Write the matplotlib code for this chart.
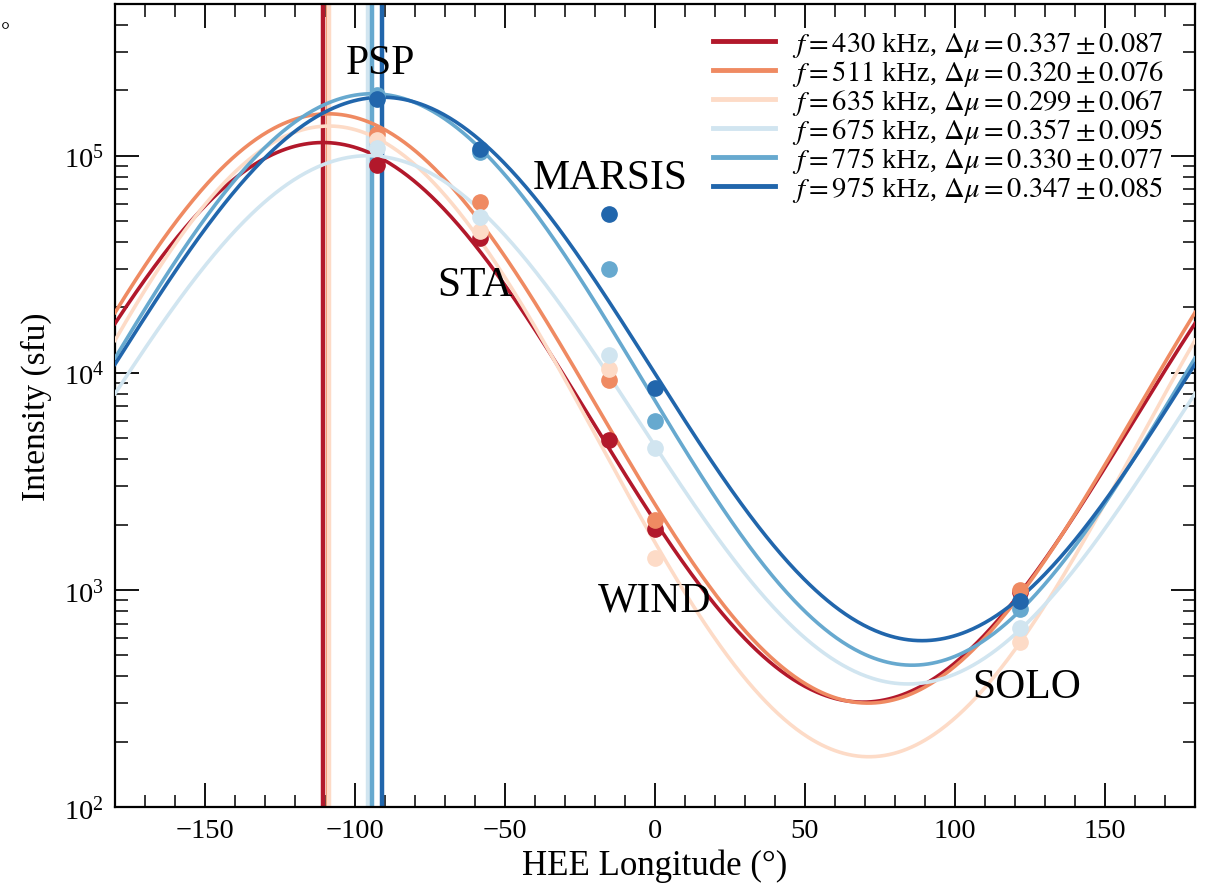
import numpy as np
import matplotlib
matplotlib.use("Agg")
import matplotlib.pyplot as plt
from matplotlib.ticker import MultipleLocator, LogLocator, NullFormatter

plt.rcParams['font.family'] = ['Liberation Serif', 'DejaVu Serif']
plt.rcParams['mathtext.fontset'] = 'stix'

# Data ---------------------------------------------------------------
freqs_khz = [430, 511, 635, 675, 775, 975]
dmu = [0.337, 0.320, 0.299, 0.357, 0.330, 0.347]
dmu_err = [0.087, 0.076, 0.067, 0.095, 0.077, 0.085]
peak_lon = [-110.7, -109.0, -108.7, -95.7, -94.3, -91.0]       # fitted direction (deg)
peak_int = [1.15e5, 1.56e5, 1.37e5, 1.00e5, 1.93e5, 1.86e5]    # fitted peak intensity (sfu)
colors = ['#b2182b', '#ef8a62', '#fddbc7', '#d1e5f0', '#67a9cf', '#2166ac']

spacecraft = ['PSP', 'STA', 'MARSIS', 'WIND', 'SOLO']
sc_lon = [-92.7, -58.3, -15.5, 0.0, 121.8]
# observed intensities (sfu): rows = frequency, cols = spacecraft
obs_430 = [9.1e4, 4.2e4, 4.9e3, 1.9e3, 980]
obs_511 = [1.26e5, 6.1e4, 9.3e3, 2.1e3, 1000]
obs_635 = [1.18e5, 4.5e4, 1.04e4, 1.4e3, 575]
obs_675 = [1.09e5, 5.2e4, 1.21e4, 4.5e3, 665]
obs_775 = [1.90e5, 1.04e5, 3.0e4, 6.0e3, 815]
obs_975 = [1.83e5, 1.07e5, 5.4e4, 8.5e3, 890]
observations = [obs_430, obs_511, obs_635, obs_675, obs_775, obs_975]

label_pos_lon = [-91.5, -60, -15, 0, 124]
label_pos_int = [2.68e5, 2.54e4, 7.9e4, 9.0e2, 3.6e2]

# Figure -------------------------------------------------------------
fig = plt.figure(figsize=(12.06, 8.87), dpi=100)
ax = fig.add_axes([0.0954, 0.0890, 0.8955, 0.9054])

theta = np.linspace(-180, 180, 721)
for f, dm, de, th0, I0, c, obs in zip(freqs_khz, dmu, dmu_err, peak_lon,
                                      peak_int, colors, observations):
    ax.axvline(th0, color=c, lw=3.2, zorder=2)
    model = I0 * np.exp((np.cos(np.radians(theta - th0)) - 1.0) / dm)
    ax.plot(theta, model, color=c, lw=2.6, zorder=3,
            label=rf'$f = {f}$ kHz, $\Delta\mu = {dm:.3f} \pm {de:.3f}$')
    ax.plot(sc_lon, obs, 'o', color=c, ms=11, zorder=4)

for name, lx, ly in zip(spacecraft, label_pos_lon, label_pos_int):
    ax.text(lx, ly, name, fontsize=30, ha='center', va='center', zorder=5)

ax.set_yscale('log')
ax.set_xlim(-180, 180)
ax.set_ylim(1e2, 5.0e5)
ax.xaxis.set_major_locator(MultipleLocator(50))
ax.xaxis.set_minor_locator(MultipleLocator(10))
ax.yaxis.set_major_locator(LogLocator(base=10, numticks=10))
ax.yaxis.set_minor_locator(LogLocator(base=10, subs=np.arange(2, 10), numticks=20))
ax.yaxis.set_minor_formatter(NullFormatter())
ax.tick_params(which='both', direction='in', top=True, right=True, labelsize=20.5)
ax.tick_params(which='major', length=17, width=1.3, pad=8)
ax.tick_params(which='minor', length=9, width=1.1)
for s in ax.spines.values():
    s.set_linewidth(1.6)

ax.set_xlabel('HEE Longitude (°)', fontsize=25, labelpad=4)
ax.set_ylabel('Intensity (sfu)', fontsize=24, labelpad=8)

leg = ax.legend(loc='upper right', fontsize=20.5, frameon=False,
                handlelength=2.2, handletextpad=0.6, labelspacing=-0.035,
                borderaxespad=0.3, bbox_to_anchor=(0.99, 0.992))
for ln in leg.get_lines():
    ln.set_linewidth(3.5)

fig.text(0.001, 0.958, '°', fontsize=16)

fig.savefig('out.png', dpi=100)
